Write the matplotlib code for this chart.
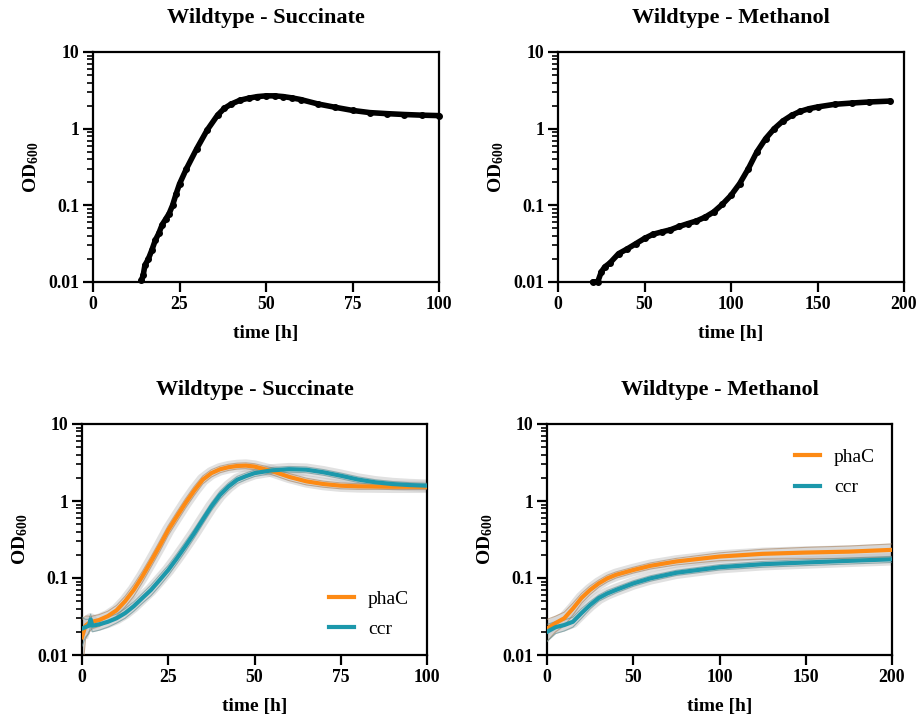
import numpy as np
import matplotlib.pyplot as plt
from matplotlib.ticker import LogLocator, FixedLocator, FixedFormatter, NullFormatter

plt.rcParams['font.family'] = ['Liberation Serif', 'DejaVu Serif']
plt.rcParams['font.weight'] = 'bold'
plt.rcParams['mathtext.default'] = 'regular'

# ---- top row: single wildtype growth curves (dense dot series) ----
wt_suc_t = [14, 14.5, 15, 16, 17, 18, 19, 20, 21, 22, 23, 24, 25, 27, 30, 33, 36, 38, 40,
            42.5, 45, 47.5, 50, 52.5, 55, 57.5, 60, 65, 70, 75, 80, 85, 90, 95, 100]
wt_suc_od = [0.0105, 0.0122, 0.0165, 0.020, 0.026, 0.035, 0.043, 0.056, 0.066, 0.078,
             0.10, 0.14, 0.19, 0.30, 0.55, 0.96, 1.5, 1.85, 2.1, 2.35, 2.5, 2.62, 2.68,
             2.68, 2.62, 2.52, 2.4, 2.1, 1.9, 1.73, 1.62, 1.57, 1.53, 1.50, 1.48]

wt_meoh_t = [20, 23, 25, 27, 30, 35, 40, 45, 50, 55, 60, 65, 70, 75, 80, 85, 90, 95, 100,
             105, 110, 115, 120, 125, 130, 135, 140, 145, 150, 160, 170, 180, 192]
wt_meoh_od = [0.010, 0.0101, 0.0135, 0.0157, 0.0177, 0.0234, 0.027, 0.0316, 0.037, 0.042,
              0.045, 0.048, 0.053, 0.0577, 0.0625, 0.070, 0.082, 0.103, 0.135, 0.192,
              0.30, 0.50, 0.74, 1.0, 1.26, 1.49, 1.68, 1.82, 1.92, 2.08, 2.16, 2.23, 2.29]

# ---- bottom row: mutant means with spread ----
suc_t = [0, 1, 2, 2.5, 3, 5, 7.5, 10, 12.5, 15, 17.5, 20, 22.5, 25, 27.5, 30, 32.5, 35,
         37.5, 40, 42.5, 45, 47.5, 50, 55, 60, 65, 70, 75, 80, 85, 90, 95, 100]
phac_suc = [0.017, 0.024, 0.026, 0.026, 0.027, 0.0285, 0.032, 0.038, 0.05, 0.07, 0.105,
            0.164, 0.26, 0.42, 0.63, 0.94, 1.36, 1.89, 2.3, 2.58, 2.75, 2.85, 2.88, 2.8,
            2.45, 2.06, 1.8, 1.66, 1.58, 1.55, 1.54, 1.53, 1.53, 1.53]
phac_suc_sd = [0.012, 0.008, 0.006, 0.005, 0.005, 0.005, 0.005, 0.006, 0.008, 0.012, 0.017,
               0.025, 0.04, 0.06, 0.09, 0.13, 0.18, 0.22, 0.25, 0.25, 0.25, 0.25, 0.25, 0.25,
               0.25, 0.22, 0.18, 0.15, 0.14, 0.13, 0.12, 0.12, 0.12, 0.12]
ccr_suc = [0.022, 0.023, 0.024, 0.029, 0.024, 0.025, 0.027, 0.030, 0.035, 0.043, 0.055,
           0.07, 0.094, 0.127, 0.18, 0.26, 0.38, 0.57, 0.85, 1.2, 1.55, 1.89, 2.1, 2.3,
           2.5, 2.59, 2.55, 2.36, 2.13, 1.9, 1.75, 1.66, 1.61, 1.58]
ccr_suc_sd = [0.009, 0.006, 0.005, 0.005, 0.004, 0.004, 0.004, 0.004, 0.005, 0.006, 0.008,
              0.011, 0.015, 0.019, 0.026, 0.037, 0.05, 0.07, 0.1, 0.14, 0.17, 0.2, 0.21,
              0.22, 0.22, 0.22, 0.22, 0.2, 0.18, 0.16, 0.14, 0.13, 0.12, 0.12]

meoh_t = [0, 5, 10, 15, 20, 25, 30, 35, 40, 50, 60, 75, 100, 125, 150, 175, 200]
phac_meoh = [0.022, 0.026, 0.030, 0.040, 0.055, 0.070, 0.085, 0.099, 0.11, 0.127, 0.144,
             0.164, 0.19, 0.206, 0.214, 0.22, 0.232]
phac_meoh_sd = [0.007, 0.006, 0.006, 0.007, 0.008, 0.009, 0.009, 0.01, 0.01, 0.011, 0.013,
                0.016, 0.022, 0.03, 0.036, 0.04, 0.045]
ccr_meoh = [0.020, 0.023, 0.0245, 0.027, 0.035, 0.0447, 0.055, 0.063, 0.070, 0.085, 0.099,
            0.117, 0.138, 0.151, 0.159, 0.167, 0.175]
ccr_meoh_sd = [0.005, 0.004, 0.004, 0.004, 0.005, 0.005, 0.005, 0.006, 0.006, 0.007, 0.008,
               0.009, 0.011, 0.013, 0.014, 0.015, 0.016]

ORANGE = '#FD8A14'
TEAL = '#1C98AB'

fig = plt.figure(figsize=(9.17, 7.19), dpi=100)
ax_tl = fig.add_axes([93 / 917, 1 - 282 / 719, 346 / 917, 230 / 719])
ax_tr = fig.add_axes([558 / 917, 1 - 282 / 719, 346 / 917, 230 / 719])
ax_bl = fig.add_axes([82 / 917, 1 - 655 / 719, 345 / 917, 231 / 719])
ax_br = fig.add_axes([547 / 917, 1 - 655 / 719, 345 / 917, 231 / 719])


def style(ax, title, xmax, xticks):
    ax.set_yscale('log')
    ax.set_ylim(0.01, 10)
    ax.set_xlim(0, xmax)
    ax.yaxis.set_major_locator(FixedLocator([0.01, 0.1, 1, 10]))
    ax.yaxis.set_major_formatter(FixedFormatter(['0.01', '0.1', '1', '10']))
    ax.yaxis.set_minor_locator(LogLocator(base=10, subs=np.arange(2, 10)))
    ax.yaxis.set_minor_formatter(NullFormatter())
    ax.set_xticks(xticks)
    for s in ax.spines.values():
        s.set_linewidth(1.6)
    ax.tick_params(axis='both', which='major', direction='out', length=7, width=1.6,
                   labelsize=12.8, pad=3)
    ax.tick_params(axis='y', which='minor', direction='out', length=4, width=1.2)
    ax.set_title(title, fontsize=16, fontweight='bold', pad=21)
    ax.set_xlabel('time [h]', fontsize=14, fontweight='bold', labelpad=9)
    ax.set_ylabel('OD$_{600}$', fontsize=14, fontweight='bold', labelpad=5)


def band(ax, t, mean, sd, edge):
    mean = np.array(mean)
    sd = np.array(sd)
    lo = mean - sd
    hi = mean + sd
    ax.plot(t, mean, color='#bdbdbd', lw=9, alpha=0.45, zorder=2, solid_capstyle='butt')
    ax.fill_between(t, lo, hi, color='#cfcfcf', alpha=0.55, lw=0, zorder=2)
    ax.plot(t, lo, color=edge, lw=0.8, alpha=0.6, zorder=3)
    ax.plot(t, hi, color=edge, lw=0.8, alpha=0.6, zorder=3)


style(ax_tl, 'Wildtype - Succinate', 100, [0, 25, 50, 75, 100])
style(ax_tr, 'Wildtype - Methanol', 200, [0, 50, 100, 150, 200])
style(ax_bl, 'Wildtype - Succinate', 100, [0, 25, 50, 75, 100])
style(ax_br, 'Wildtype - Methanol', 200, [0, 50, 100, 150, 200])

ax_tl.plot(wt_suc_t, wt_suc_od, color='black', lw=4, marker='o', ms=4,
           solid_capstyle='round', clip_on=False, zorder=4)
ax_tr.plot(wt_meoh_t, wt_meoh_od, color='black', lw=4, marker='o', ms=4,
           solid_capstyle='round', clip_on=False, zorder=4)

band(ax_bl, suc_t, phac_suc, phac_suc_sd, '#a8825e')
band(ax_bl, suc_t, ccr_suc, ccr_suc_sd, '#5b8d92')
ax_bl.plot(suc_t, phac_suc, color=ORANGE, lw=3, label='phaC', zorder=5)
ax_bl.plot(suc_t, ccr_suc, color=TEAL, lw=3, label='ccr', zorder=6)

band(ax_br, meoh_t, phac_meoh, phac_meoh_sd, '#a8825e')
band(ax_br, meoh_t, ccr_meoh, ccr_meoh_sd, '#5b8d92')
ax_br.plot(meoh_t, phac_meoh, color=ORANGE, lw=3, label='phaC', zorder=5)
ax_br.plot(meoh_t, ccr_meoh, color=TEAL, lw=3, label='ccr', zorder=6)

for ax, anchor in [(ax_bl, (0.716, 0.28)), (ax_br, (0.719, 0.894))]:
    ax.legend(loc='upper left', bbox_to_anchor=anchor, frameon=False,
              prop={'family': 'Liberation Serif', 'weight': 'normal', 'size': 14},
              handlelength=1.3, handletextpad=0.7, labelspacing=0.65,
              borderpad=0, borderaxespad=0)

fig.savefig('out.png', dpi=100)
